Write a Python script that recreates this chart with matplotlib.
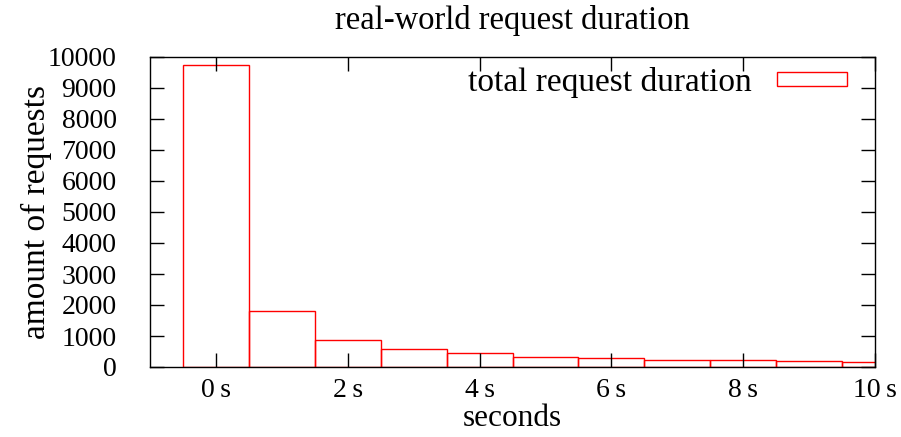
import numpy as np
import matplotlib.pyplot as plt
from matplotlib.patches import Rectangle

plt.rcParams['font.family'] = ['Liberation Serif', 'DejaVu Serif']
plt.rcParams['font.size'] = 20

# request duration histogram, one bin per second
seconds = [0, 1, 2, 3, 4, 5, 6, 7, 8, 9, 10]
requests = [9730, 1800, 880, 590, 440, 320, 300, 240, 210, 205, 160]
xticks = [0, 2, 4, 6, 8, 10]
xticklabels = ['%d\u2009s' % t for t in xticks]
yticks = list(range(0, 10001, 1000))

fig = plt.figure(figsize=(9.01, 4.37), dpi=100)
ax = fig.add_axes([150 / 901, 1 - 367 / 437, 725 / 901, 310 / 437])

ax.bar(seconds, requests, width=1.0, facecolor='none', edgecolor='red',
       linewidth=1.0, label='total request duration')

ax.set_xlim(-1, 10)
ax.set_ylim(0, 10000)
ax.set_xticks(xticks)
ax.set_xticklabels(xticklabels)
ax.set_yticks(yticks)
ax.tick_params(direction='in', length=10, width=1.0, top=True, right=True)
ax.tick_params(axis='x', pad=8)
ax.tick_params(axis='y', pad=24)
for s in ax.spines.values():
    s.set_linewidth(1.0)

ax.set_title('real-world request duration', fontsize=23.5, pad=20)
ax.set_xlabel('seconds', fontsize=22.5, labelpad=0.5)
ax.set_ylabel('amount of requests', fontsize=24, labelpad=-3)

handle = Rectangle((0, 0), 1, 1, facecolor='none', edgecolor='red', linewidth=1.0)
ax.legend([handle], ['total request duration'], loc='upper right', frameon=False,
          bbox_to_anchor=(0.9706, 0.99), borderaxespad=0,
          markerfirst=False, fontsize=24, handlelength=2.1, handleheight=0.25,
          borderpad=0.2, handletextpad=0.75)

fig.savefig('out.png', dpi=100)
